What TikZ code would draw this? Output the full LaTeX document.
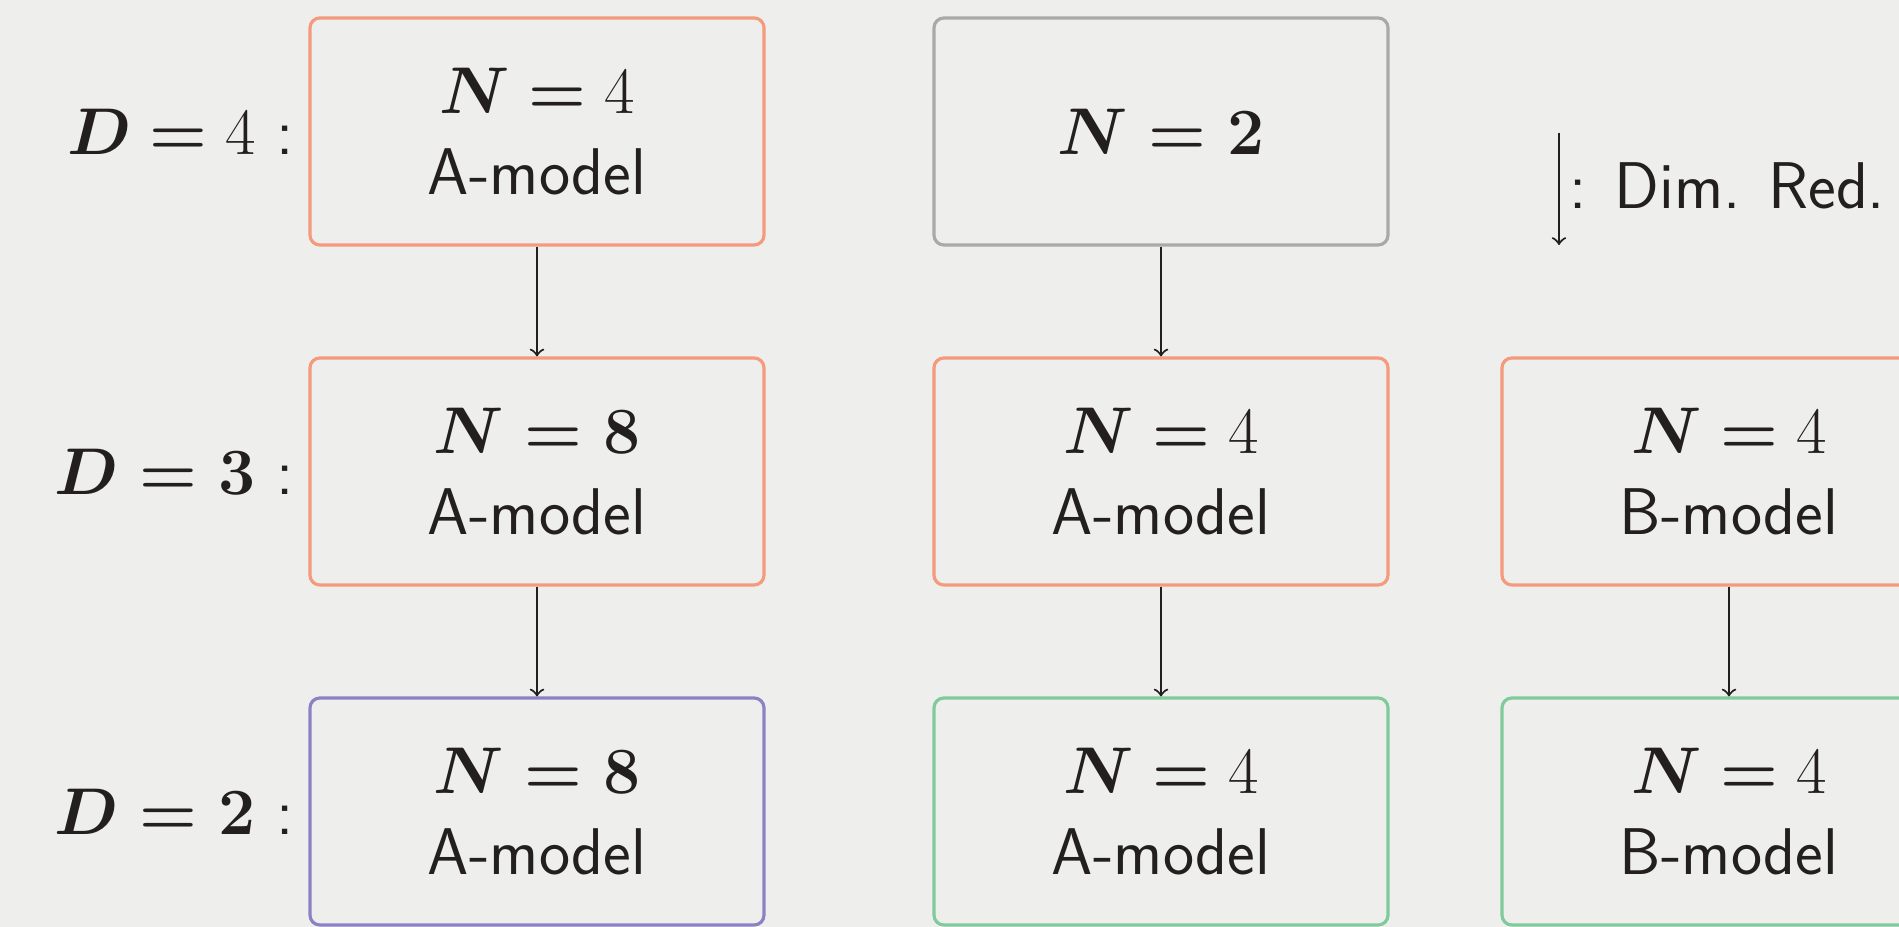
\documentclass[tikz,border=0pt]{standalone}
\usepackage{fix-cm}
\usepackage{amsmath}
\usepackage{fontspec}
\usetikzlibrary{positioning}

\definecolor{bgcol}{HTML}{EEEEEC}
\definecolor{colA}{HTML}{F59A7C}
\definecolor{colG}{HTML}{A9A9A9}
\definecolor{colP}{HTML}{8B82C4}
\definecolor{colGr}{HTML}{7FCB9C}
\definecolor{inkcol}{HTML}{231F20}

\newcommand{\bfeq}{\mathrel{\boldsymbol{=}}}

\tikzset{
  modelbox/.style={draw, rounded corners=2.8pt, line width=0.9pt,
    minimum width=4.54cm, minimum height=2.27cm, align=center,
    text=inkcol, font=\fontsize{18.8}{23}\selectfont\sffamily},
  dimlabel/.style={text=inkcol, font=\fontsize{18.8}{23}\selectfont\sffamily},
  redarrow/.style={->, line width=0.6pt, draw=inkcol},
}

\begin{document}
\begin{tikzpicture}

    % 1. 背景（同时固定画面大小）
    \clip (0,0) rectangle (18.99,9.27);
    \fill[bgcol] (0,0) rectangle (18.99,9.27);

    % 2. 第一列：A-model 的三个方框
    \node[modelbox, draw=colA] (c1r1) at (5.37,7.955) {$\boldsymbol{N} \bfeq 4$\\A-model};
    \node[modelbox, draw=colA] (c1r2) at (5.37,4.555) {$\boldsymbol{N = 8}$\\A-model};
    \node[modelbox, draw=colP] (c1r3) at (5.37,1.155) {$\boldsymbol{N = 8}$\\A-model};

    % 3. 第二列
    \node[modelbox, draw=colG]  (c2r1) at (11.61,7.955) {$\boldsymbol{N = 2}$};
    \node[modelbox, draw=colA]  (c2r2) at (11.61,4.555) {$\boldsymbol{N} \bfeq 4$\\A-model};
    \node[modelbox, draw=colGr] (c2r3) at (11.61,1.155) {$\boldsymbol{N} \bfeq 4$\\A-model};

    % 4. 第三列：B-model（右边被画面截掉）
    \node[modelbox, draw=colA]  (c3r2) at (17.29,4.555) {$\boldsymbol{N} \bfeq 4$\\B-model};
    \node[modelbox, draw=colGr] (c3r3) at (17.29,1.155) {$\boldsymbol{N} \bfeq 4$\\B-model};

    % 5. 左侧的维数标签
    \node[dimlabel, left=0.02cm of c1r1] (d4) {$\boldsymbol{D} \bfeq 4$ :};
    \node[dimlabel, left=0.02cm of c1r2] (d3) {$\boldsymbol{D = 3}$ :};
    \node[dimlabel, left=0.02cm of c1r3] (d2) {$\boldsymbol{D = 2}$ :};

    % 6. 降维箭头
    \draw[redarrow] (c1r1) -- (c1r2);
    \draw[redarrow] (c1r2) -- (c1r3);
    \draw[redarrow] (c2r1) -- (c2r2);
    \draw[redarrow] (c2r2) -- (c2r3);
    \draw[redarrow] (c3r2) -- (c3r3);

    % 7. 图例
    \coordinate (legtop) at (15.59,7.94);
    \coordinate (legbot) at (15.59,6.82);
    \draw[redarrow] (legtop) -- (legbot);
    \node[dimlabel, anchor=west, inner sep=1.5pt] (legtext) at (15.64,7.41) {: Dim. Red.};

\end{tikzpicture}
\end{document}
